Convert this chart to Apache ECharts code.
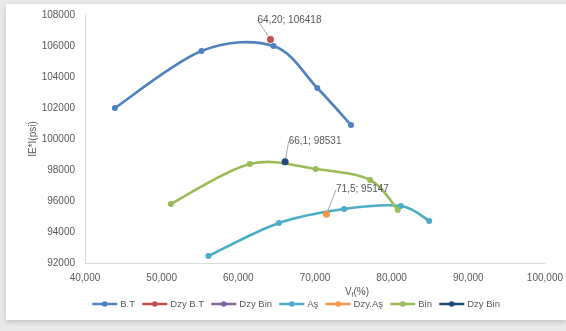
<!DOCTYPE html>
<html>
<head>
<meta charset="utf-8">
<script src="https://cdn.jsdelivr.net/npm/echarts@6/dist/echarts.min.js"></script>
<style>
  html, body { margin: 0; padding: 0; width: 566px; height: 331px; background: #e9e9e9; overflow: hidden; }
  #card { position: absolute; left: 6px; top: 4px; width: 560px; height: 316px; background: #fff; box-shadow: 0 2px 5px rgba(0,0,0,0.18); }
  #chart { position: absolute; left: 0; top: 0; width: 566px; height: 331px; }
</style>
</head>
<body>
<div id="card"></div>
<div id="chart"></div>
<script>
// ---- data ----
const xTicks = ['40,000', '50,000', '60,000', '70,000', '80,000', '90,000', '100,000'];
const yTicks = ['92000', '94000', '96000', '98000', '100000', '102000', '104000', '106000', '108000'];

const btX  = [43.9, 55.2, 64.6, 70.3, 74.7];
const btY  = [102000, 105680, 106000, 103290, 100900];

const dzyBtX = [64.20];
const dzyBtY = [106418];

const asX  = [56.1, 65.3, 73.8, 81.2, 84.9];
const asY  = [92455, 94584, 95487, 95680, 94713];

const dzyAsX = [71.5];
const dzyAsY = [95147];

const binX = [51.2, 61.5, 70.1, 77.2, 80.8];
const binY = [95810, 98390, 98067, 97357, 95420];

const dzyBinX = [66.1];
const dzyBinY = [98531];

const pairs = (xs, ys) => xs.map((x, i) => [x, ys[i]]);

const font = 'Liberation Sans, Open Sans, sans-serif';
const txt = '#595959';

function pointLabel(text, dx, dy) {
  return {
    label: { show: true, position: 'top', formatter: text, color: txt, fontSize: 10, fontFamily: font },
    labelLayout: { dx: dx, dy: dy },
    labelLine: { show: true, lineStyle: { color: '#a6a6a6', width: 1 } }
  };
}

// Excel-like smoothed curve (Catmull-Rom through the data points, mapped by the axes)
function smoothCurve(xs, ys, color) {
  return {
    type: 'custom', silent: true, z: 1,
    data: pairs(xs, ys),
    renderItem: function (params, api) {
      if (params.dataIndex !== 0) return null;
      const p = xs.map((x, i) => api.coord([x, ys[i]]));
      let d = 'M' + p[0][0] + ',' + p[0][1];
      for (let i = 0; i < p.length - 1; i++) {
        const p0 = p[i - 1] || p[i], p1 = p[i], p2 = p[i + 1], p3 = p[i + 2] || p[i + 1];
        const c1 = [p1[0] + (p2[0] - p0[0]) / 6, p1[1] + (p2[1] - p0[1]) / 6];
        const c2 = [p2[0] - (p3[0] - p1[0]) / 6, p2[1] - (p3[1] - p1[1]) / 6];
        d += ' C' + c1[0] + ',' + c1[1] + ' ' + c2[0] + ',' + c2[1] + ' ' + p2[0] + ',' + p2[1];
      }
      return { type: 'path', shape: { pathData: d }, style: { fill: 'none', stroke: color, lineWidth: 2.6, lineCap: 'round', lineJoin: 'round' } };
    }
  };
}

const chart = echarts.init(document.getElementById('chart'));
chart.setOption({
  backgroundColor: 'transparent',
  animation: false,
  textStyle: { fontFamily: font },
  grid: { left: 85, top: 15, right: 18, bottom: 68 },
  xAxis: {
    type: 'value', min: 40, max: 100, interval: 10,
    axisLine: { show: true, lineStyle: { color: '#d9d9d9' } },
    axisTick: { show: false },
    splitLine: { show: false },
    axisLabel: { color: txt, fontSize: 10, margin: 10, formatter: v => xTicks[Math.round((v - 40) / 10)] },
    name: 'V{sub|f}(%)', nameLocation: 'middle', nameGap: 23, nameMoveOverlap: false,
    nameTextStyle: { color: txt, fontSize: 10, padding: [0, 0, 0, 84],
      rich: { sub: { fontSize: 7, color: txt, padding: [6, 0, 0, 0] } } }
  },
  yAxis: {
    type: 'value', min: 92000, max: 108000, interval: 2000,
    axisLine: { show: true, lineStyle: { color: '#d9d9d9' } },
    axisTick: { show: false },
    splitLine: { show: false },
    axisLabel: { color: txt, fontSize: 10, margin: 10, formatter: v => yTicks[Math.round((v - 92000) / 2000)] },
    name: 'IE*I(psi)', nameLocation: 'middle', nameGap: 47, nameRotate: 90, nameMoveOverlap: false,
    nameTextStyle: { color: txt, fontSize: 10 }
  },
  legend: {
    top: 294, left: 86, width: 470, itemGap: 6, itemWidth: 25, itemHeight: 7,
    textStyle: { color: txt, fontSize: 9.5, padding: [0, 0, 0, -2] },
    lineStyle: { width: 2.5, opacity: 1 },
    formatter: n => n.trim(),
    data: ['B.T', 'Dzy B.T', 'Dzy Bin', 'Aş', 'Dzy.Aş', 'Bin', 'Dzy Bin ']
  },
  series: [
    smoothCurve(btX, btY, '#4F81BD'),
    smoothCurve(asX, asY, '#4BACC6'),
    smoothCurve(binX, binY, '#9BBB59'),
    { name: 'B.T', type: 'line', data: pairs(btX, btY), color: '#4F81BD', z: 3,
      lineStyle: { width: 2.5, opacity: 0 }, symbol: 'circle', symbolSize: 6 },
    Object.assign({ name: 'Dzy B.T', type: 'line', data: pairs(dzyBtX, dzyBtY), color: '#C0504D',
      symbol: 'circle', symbolSize: 7, z: 5 }, pointLabel('64,20; 106418', 19, -6)),
    { name: 'Dzy Bin', type: 'line', data: [], color: '#8064A2', symbol: 'circle', symbolSize: 6 },
    { name: 'Aş', type: 'line', data: pairs(asX, asY), color: '#4BACC6', z: 3,
      lineStyle: { width: 2.5, opacity: 0 }, symbol: 'circle', symbolSize: 6 },
    Object.assign({ name: 'Dzy.Aş', type: 'line', data: pairs(dzyAsX, dzyAsY), color: '#F79646',
      symbol: 'circle', symbolSize: 7, z: 5 }, pointLabel('71,5; 95147', 36, -11)),
    { name: 'Bin', type: 'line', data: pairs(binX, binY), color: '#9BBB59', z: 3,
      lineStyle: { width: 2.5, opacity: 0 }, symbol: 'circle', symbolSize: 6 },
    Object.assign({ name: 'Dzy Bin ', type: 'line', data: pairs(dzyBinX, dzyBinY), color: '#1F497D',
      symbol: 'circle', symbolSize: 7, z: 5 }, pointLabel('66,1; 98531', 30, -7))
  ]
});
</script>
</body>
</html>
